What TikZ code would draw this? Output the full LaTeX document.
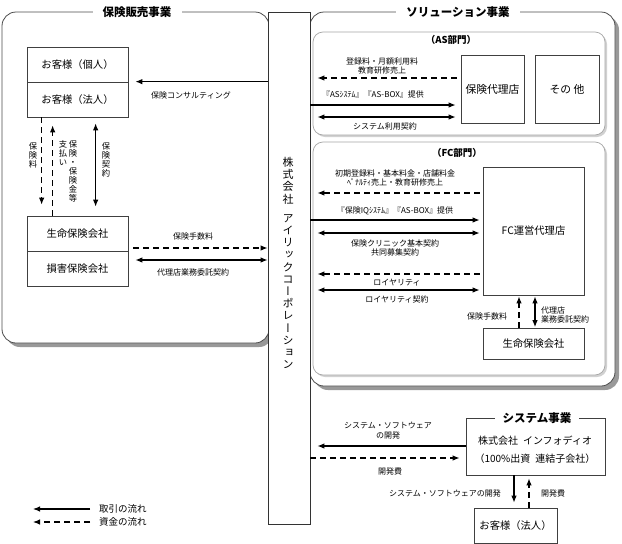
\documentclass[tikz,border=0pt]{standalone}
\usepackage{fontspec}
\setmainfont{Noto Sans CJK JP}
\newfontfamily\vjp[RawFeature=+vert]{Noto Sans CJK JP}
\usetikzlibrary{arrows.meta,shadows,calc}
\tikzset{
  every node/.style={inner sep=0pt},
  bx/.style={draw=black!75, line width=0.7pt, fill=white, minimum width=101pt, minimum height=35pt, font=\fontsize{10.3}{12}\selectfont},
  lbl/.style={font=\fontsize{8}{9.8}\selectfont, align=center},
  vl/.style={font=\fontsize{8.3}{9}\selectfont, align=center},
  flow/.style={line width=1.1pt, -{Latex[length=7pt,width=5.5pt]}},
  flowtwo/.style={line width=1.1pt, {Latex[length=7pt,width=5.5pt]}-{Latex[length=7pt,width=5.5pt]}},
  money/.style={flow, dash pattern=on 6pt off 4pt},
  grp/.style={draw=black!70, line width=0.8pt, fill=white, rounded corners=14pt,
    drop shadow={shadow xshift=4pt, shadow yshift=-4pt, fill=black!40, opacity=1}},
  sub/.style={draw=black!35, line width=0.7pt, fill=white, rounded corners=10pt,
    drop shadow={shadow xshift=2pt, shadow yshift=-2pt, fill=black!18, opacity=1}},
  ttl/.style={fill=white, font=\fontsize{11.5}{13}\selectfont\bfseries, inner xsep=10pt, inner ysep=2pt},
  subttl/.style={font=\fontsize{9.5}{11}\selectfont\bfseries},
}
\begin{document}
\begin{tikzpicture}[x=1pt,y=-1pt]
\useasboundingbox (0,0) rectangle (622,544);

% group boxes
\node[grp, minimum width=267pt, minimum height=331pt] (hanbai) at (135.5,177.5) {};
\node[grp, minimum width=305pt, minimum height=374pt] (sol) at (462.5,199) {};
\node[sub, minimum width=292pt, minimum height=103pt] (asb) at (459,83.5) {};
\node[sub, minimum width=292pt, minimum height=233pt] (fcb) at (459,258.5) {};
\node[ttl] (t1) at (137,12) {保険販売事業};
\node[ttl] (t2) at (458,12) {ソリューション事業};
\node[subttl] (t3) at (451,40) {（AS部門）};
\node[subttl] (t4) at (457,153) {（FC部門）};

% column
\node[draw=black!80, line width=0.8pt, fill=white, minimum width=42pt, minimum height=512pt] (iric) at (289,268) {};
\node[font=\fontsize{11}{12.2}\selectfont\vjp, align=center] (iricname) at (288,263)
 {株\\式\\会\\社\\[7pt]ア\\イ\\リ\\ッ\\ク\\コ\\ー\\ポ\\レ\\ー\\シ\\ョ\\ン};

% left boxes
\node[bx] (kojin) at (77.5,64.5) {お客様（個人）};
\node[bx] (hojin) at (77.5,99.5) {お客様（法人）};
\node[bx] (seimei) at (77.5,233.5) {生命保険会社};
\node[bx] (songai) at (77.5,268.5) {損害保険会社};

% AS boxes
\node[bx, minimum width=63pt, minimum height=68pt, font=\fontsize{10.8}{12}\selectfont] (dairi) at (492.5,89) {保険代理店};
\node[bx, minimum width=64pt, minimum height=68pt, font=\fontsize{10.8}{12}\selectfont] (sonota) at (567,89) {その 他};

% FC boxes
\node[bx, minimum width=101pt, minimum height=128pt] (fcd) at (533.5,231) {FC運営代理店};
\node[bx, minimum width=101pt, minimum height=31pt] (fcs) at (533.5,344) {生命保険会社};

% system
\node[draw=black!75, line width=0.8pt, fill=white, minimum width=139pt, minimum height=57pt] (sys) at (535.5,446.5) {};
\node[ttl, inner xsep=8pt] (t5) at (537,418) {システム事業};
\node[font=\fontsize{10}{11}\selectfont] (sys1) at (535,441) {株式会社\enspace インフォディオ};
\node[font=\fontsize{10}{11}\selectfont] (sys2) at (535,459) {（100\%出資\enspace 連結子会社）};
\node[bx, minimum width=83pt, minimum height=35pt] (kyaku) at (515.5,525.5) {お客様（法人）};

% left arrows
\draw[flow, shorten >=7pt] (iric.west |- hojin.north) -- (hojin.north east);
\node[lbl] (l0) at (191,95) {保険コンサルティング};
\draw[money, shorten >=11pt] ([xshift=15pt]hojin.south west) -- ([xshift=15pt]seimei.north west);
\draw[money, shorten >=8pt] ([xshift=26pt]seimei.north west) -- ([xshift=26pt]hojin.south west);
\draw[flowtwo, shorten <=6pt, shorten >=9pt] ([xshift=69pt]hojin.south west) -- ([xshift=69pt]seimei.north west);
\node[vl] (v1) at (33,155) {保\\険\\料};
\node[vl, anchor=north] (v2) at (73,140) {保\\険\\・\\保\\険\\金\\等};
\node[vl, anchor=north] (v3) at (63,140) {支\\払\\い};
\node[vl, anchor=north] (v4) at (106,142) {保\\険\\契\\約};

\draw[money, shorten <=5pt] (seimei.east |- 0,248) -- (iric.west |- 0,248);
\draw[flowtwo, shorten <=7pt] (seimei.east |- 0,260) -- (iric.west |- 0,260);
\node[lbl] (l1) at (193,236) {保険手数料};
\node[lbl] (l2) at (193,272) {代理店業務委託契約};

% AS arrows
\draw[money, shorten <=4pt, shorten >=7pt] (dairi.west |- 0,78) -- (iric.east |- 0,78);
\draw[flow, shorten >=5pt] (iric.east |- 0,105) -- (dairi.west |- 0,105);
\draw[flowtwo, shorten <=5pt, shorten >=7pt] (dairi.west |- 0,117) -- (iric.east |- 0,117);
\node[lbl] (l3) at (382,66) {登録料・月額利用料\\教育研修売上};
\node[lbl] (l4) at (373,94) {『ASｼｽﾃﾑ』『AS-BOX』提供};
\node[lbl] (l5) at (385,126) {システム利用契約};

% FC arrows
\draw[money, shorten <=3pt, shorten >=7pt] (fcd.west |- 0,193) -- (iric.east |- 0,193);
\draw[flow, shorten >=3pt] (iric.east |- 0,220) -- (fcd.west |- 0,220);
\draw[flowtwo, shorten <=3pt, shorten >=7pt] (fcd.west |- 0,233) -- (iric.east |- 0,233);
\draw[money, shorten <=3pt, shorten >=7pt] (fcd.west |- 0,274) -- (iric.east |- 0,274);
\draw[flowtwo, shorten <=3pt, shorten >=7pt] (fcd.west |- 0,290) -- (iric.east |- 0,290);
\node[lbl] (l6) at (395,178) {初期登録料・基本料金・店舗料金\\ﾍﾟﾅﾙﾃｨ売上・教育研修売上};
\node[lbl] (l7) at (395,211) {『保険IQｼｽﾃﾑ』『AS-BOX』提供};
\node[lbl] (l8) at (395,248) {保険クリニック基本契約\\共同募集契約};
\node[lbl] (l9) at (397,283) {ロイヤリティ};
\node[lbl] (l10) at (397,299) {ロイヤリティ契約};
\draw[money, shorten >=1pt] (fcs.north -| 519,0) -- (fcd.south -| 519,0);
\draw[flowtwo, shorten <=1pt, shorten >=1pt] (fcs.north -| 535,0) -- (fcd.south -| 535,0);
\node[lbl] (l11) at (487,316) {保険手数料};
\node[lbl, align=left, anchor=west] (l12) at (541,315) {代理店\\業務委託契約};

% system arrows
\draw[flow, shorten >=7pt] (sys.west |- 0,446) -- (iric.east |- 0,446);
\draw[money, shorten >=6pt] (iric.east |- 0,458) -- (sys.west |- 0,458);
\node[lbl] (l13) at (388,431) {システム・ソフトウェア\\の開発};
\node[lbl] (l14) at (390,471) {開発費};
\draw[flow, shorten >=5pt] (sys.south -| 514,0) -- (kyaku.north -| 514,0);
\draw[money, shorten >=3pt] (kyaku.north -| 529,0) -- (sys.south -| 529,0);
\node[lbl, anchor=east] (l15) at (501,493) {システム・ソフトウェアの開発};
\node[lbl] (l16) at (553,493) {開発費};

% legend
\node[font=\fontsize{9.5}{11}\selectfont, anchor=west] (lg1) at (99,509) {取引の流れ};
\node[font=\fontsize{9.5}{11}\selectfont, anchor=west] (lg2) at (99,522) {資金の流れ};
\coordinate (lgA) at (90,509);
\coordinate (lgB) at (33,509);
\coordinate (lgC) at (90,522);
\coordinate (lgD) at (33,522);
\draw[flow] (lgA) -- (lgB);
\draw[money] (lgC) -- (lgD);
\end{tikzpicture}
\end{document}
